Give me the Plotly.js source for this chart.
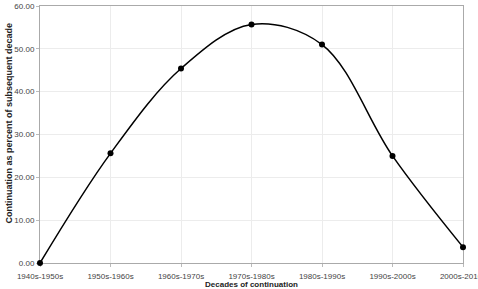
<!DOCTYPE html>
<html>
<head>
<meta charset="utf-8">
<script src="https://cdn.plot.ly/plotly-3.0.1.min.js"></script>
<style>html,body{margin:0;padding:0;background:#fff;}#chart{width:478px;height:289px;}</style>
</head>
<body>
<div id="chart"></div>
<script>
var categories = ["1940s-1950s","1950s-1960s","1960s-1970s","1970s-1980s","1980s-1990s","1990s-2000s","2000s-2010s"];
var values = [0, 25.6, 45.4, 55.7, 51.0, 25.0, 3.7];
var yTickVals = [0, 10, 20, 30, 40, 50, 60];
var yTickText = ["0.00","10.00","20.00","30.00","40.00","50.00","60.00"];
var xTitle = "Decades of continuation";
var yTitle = "Continuation as percent of subsequent decade";

var idx = categories.map(function(c, i){ return i; });

var trace = {
  x: idx,
  y: values,
  type: 'scatter',
  mode: 'lines+markers',
  line: {color: '#000', width: 1.5, shape: 'spline', smoothing: 1},
  marker: {color: '#000', size: 6},
  cliponaxis: false,
  hoverinfo: 'skip'
};

var layout = {
  width: 478, height: 289,
  margin: {l: 40, r: 15, t: 6, b: 26},
  paper_bgcolor: '#fff', plot_bgcolor: '#fff',
  showlegend: false,
  font: {family: 'Liberation Sans, Arial, sans-serif', size: 8, color: '#444'},
  xaxis: {
    range: [0, 6],
    tickvals: idx,
    ticktext: categories,
    showgrid: true, gridcolor: '#ececec', gridwidth: 1,
    zeroline: false,
    showline: true, linecolor: '#aaa', linewidth: 1, mirror: true,
    layer: 'below traces',
    ticks: 'outside', ticklen: 3, tickcolor: '#bbb',
    ticklabelstandoff: 2,
    ticklabeloverflow: 'allow',
    tickfont: {size: 8, color: '#444'}
  },
  yaxis: {
    range: [0, 60],
    tickvals: yTickVals,
    ticktext: yTickText,
    showgrid: true, gridcolor: '#ececec', gridwidth: 1,
    zeroline: false,
    showline: true, linecolor: '#aaa', linewidth: 1, mirror: true,
    layer: 'below traces',
    ticks: 'outside', ticklen: 3, tickcolor: '#bbb',
    tickfont: {size: 8, color: '#444'}
  },
  annotations: [
    {
      text: '<b>' + xTitle + '</b>', xref: 'paper', yref: 'paper',
      x: 0.5, y: -0.0845, xanchor: 'center', yanchor: 'middle',
      showarrow: false, font: {size: 8, color: '#222'}
    },
    {
      text: '<b>' + yTitle + '</b>', xref: 'paper', yref: 'paper',
      x: -0.0733, y: 0.547, xanchor: 'center', yanchor: 'middle',
      textangle: -90, showarrow: false, font: {size: 9, color: '#222'}
    }
  ]
};

Plotly.newPlot('chart', [trace], layout, {displayModeBar: false, staticPlot: true});
</script>
</body>
</html>
